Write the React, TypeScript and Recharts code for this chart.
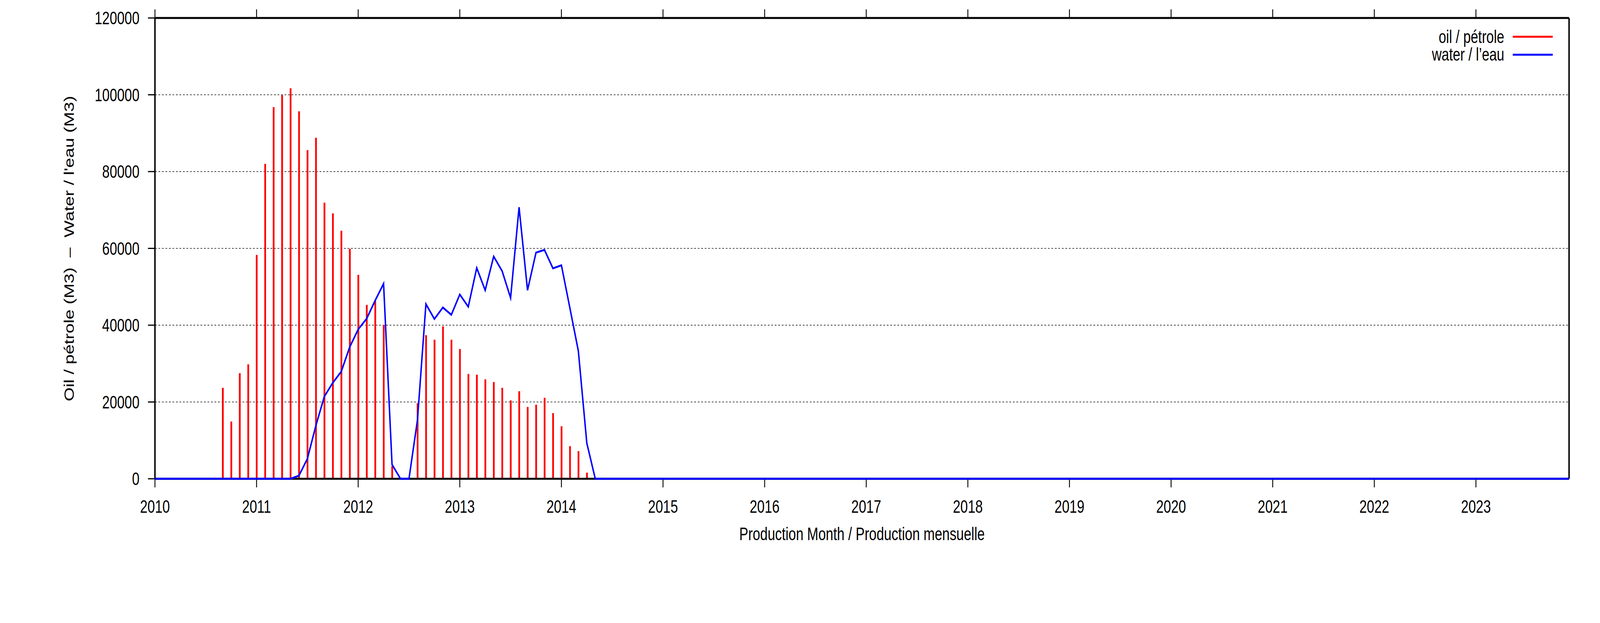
import React from "react";
import { ComposedChart, Bar, Line, XAxis, YAxis, CartesianGrid, Legend, Label } from "recharts";

// monthly production, Jan 2010 = month 0
const years = ["2010", "2011", "2012", "2013", "2014", "2015", "2016", "2017", "2018", "2019", "2020", "2021", "2022", "2023"];
const monthCount = 168;

// oil / pétrole, Sep 2010 .. Apr 2014
const oilStartMonth = 8;
const oilValues = [
  23700, 14900, 27500, 29800,
  58300, 82000, 96800, 99900, 101700, 95700, 85600, 88800, 71900, 69100, 64600, 59900,
  53100, 45300, 46300, 40100, 3300, 0, 0, 19700, 37400, 36200, 39700, 36200,
  33800, 27300, 27100, 25900, 25200, 23700, 20400, 22800, 18700, 19300, 21100, 17100,
  13700, 8500, 7200, 1600,
];

// water / l'eau, May 2011 .. May 2014
const waterStartMonth = 16;
const waterValues = [
  0, 800, 5200, 13800, 21400, 25000, 27900, 34300,
  38900, 41700, 46400, 50800, 3700, 0, 0, 15300, 45500, 41600, 44600, 42700,
  48000, 44800, 54900, 49100, 57900, 54100, 47100, 70700, 49100, 58900, 59600, 54800,
  55600, 44500, 33300, 9300, 0,
];

const yTicks = [0, 20000, 40000, 60000, 80000, 100000, 120000];
const xTicks = years.map((_, i) => i * 12);

const data = Array.from({ length: monthCount }, (_, m) => ({
  m,
  oil: oilValues[m - oilStartMonth] ?? 0,
  water: waterValues[m - waterStartMonth] ?? 0,
}));

const W = 5483;
const H = 1594;
const font = "'Liberation Sans', Arial, Helvetica, sans-serif";
const tickStyle = { fontSize: 46, fill: "#000", fontFamily: font };
const tickLine = { stroke: "#000", strokeWidth: 3 };
const border = { stroke: "#000", strokeWidth: 5 };

function LegendBox() {
  return (
    <svg width={W} height={200} style={{ position: "absolute", left: 0, top: 0, overflow: "visible" }}>
      <text x={5155} y={110} textAnchor="end" fontSize={46} fontFamily={font} fill="#000">oil / pétrole</text>
      <line x1={5184} x2={5321} y1={94} y2={94} stroke="#ff0000" strokeWidth={5} />
      <text x={5155} y={155} textAnchor="end" fontSize={46} fontFamily={font} fill="#000">water / l’eau</text>
      <line x1={5184} x2={5321} y1={140} y2={140} stroke="#0000ff" strokeWidth={5} />
    </svg>
  );
}

export default function App() {
  // the window can be narrower than the chart: squeeze it horizontally to fit
  const sx = Math.min(1, window.innerWidth / W);
  return (
    <div
      style={{
        position: "absolute",
        left: 0,
        top: 0,
        width: W,
        height: H,
        background: "#fff",
        transform: `scaleX(${sx})`,
        transformOrigin: "0 0",
      }}
    >
      <ComposedChart width={W} height={H} data={data} margin={{ top: 0, right: 0, bottom: 0, left: 0 }}>
        <CartesianGrid xAxisId="b" yAxisId="l" vertical={false} stroke="#000" strokeWidth={1.5} strokeDasharray="6 6" />
        <XAxis
          xAxisId="b"
          type="number"
          dataKey="m"
          domain={[0, monthCount - 1]}
          ticks={xTicks}
          tickFormatter={(v: number) => years[v / 12]}
          height={369}
          tickSize={22}
          tickMargin={32}
          tick={tickStyle}
          tickLine={tickLine}
          axisLine={border}
          interval={0}
        >
          <Label
            content={() => (
              <text x={2954} y={1382} textAnchor="middle" fontSize={46} fontFamily={font} fill="#000">
                Production Month / Production mensuelle
              </text>
            )}
          />
        </XAxis>
        <XAxis
          xAxisId="t"
          orientation="top"
          type="number"
          dataKey="m"
          domain={[0, monthCount - 1]}
          ticks={xTicks}
          tickFormatter={() => ""}
          height={46}
          tickSize={22}
          tick={tickStyle}
          tickLine={tickLine}
          axisLine={border}
          interval={0}
        />
        <YAxis
          yAxisId="l"
          type="number"
          domain={[0, 120000]}
          ticks={yTicks}
          width={531}
          tickSize={24}
          tickMargin={29}
          tick={tickStyle}
          tickLine={tickLine}
          axisLine={border}
          interval={0}
        >
          <Label
            content={() => (
              <text
                x={253}
                y={636}
                transform="rotate(-90, 253, 636)"
                textAnchor="middle"
                fontSize={46}
                fontFamily={font}
                fill="#000"
                style={{ whiteSpace: "pre" }}
              >
                {"Oil / pétrole (M3)  –  Water / l'eau (M3)"}
              </text>
            )}
          />
        </YAxis>
        <YAxis
          yAxisId="r"
          orientation="right"
          type="number"
          domain={[0, 120000]}
          ticks={yTicks}
          tickFormatter={() => ""}
          width={106}
          tickSize={25}
          tick={tickStyle}
          tickLine={tickLine}
          axisLine={border}
          interval={0}
        />
        <Legend
          content={() => <LegendBox />}
          wrapperStyle={{ position: "absolute", left: 0, top: 0, width: 0, height: 0, overflow: "visible" }}
        />
        <Bar xAxisId="b" yAxisId="l" dataKey="oil" fill="#ff0000" barSize={6} isAnimationActive={false} />
        <Line
          xAxisId="b"
          yAxisId="l"
          type="linear"
          dataKey="water"
          stroke="#0000ff"
          strokeWidth={5}
          dot={false}
          activeDot={false}
          isAnimationActive={false}
          zIndex={600}
        />
      </ComposedChart>
    </div>
  );
}
